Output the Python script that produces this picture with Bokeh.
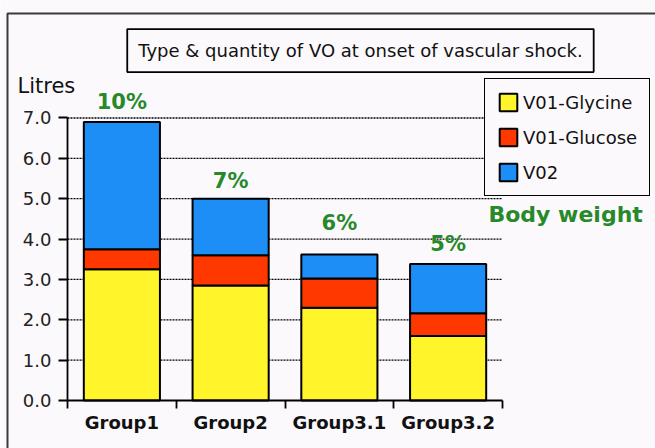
from bokeh.plotting import figure
from bokeh.models import (Range1d, FixedTicker, LinearAxis, Label, Legend, LegendItem,
                          ColumnDataSource, BoxAnnotation, PrintfTickFormatter)
from bokeh.embed import file_html
from bokeh.resources import INLINE
from bokeh.core.properties import value

# ---- data ----
groups = ["Group1", "Group2", "Group3.1", "Group3.2"]
glycine = [3.25, 2.85, 2.30, 1.60]
glucose = [0.50, 0.75, 0.72, 0.56]
vo2 = [3.15, 1.40, 0.60, 1.22]
series_names = ["V01-Glycine", "V01-Glucose", "V02"]
pct_labels = ["10%", "7%", "6%", "5%"]
pct_label_y = [7.40, 5.45, 4.41, 3.87]
y_ticks = [0, 1, 2, 3, 4, 5, 6, 7]
title_text = "Type & quantity of VO at onset of vascular shock."

FONT = "DejaVu Sans"
BG = "#fcf9fc"
GREEN = "#27892a"
colors = ["#fff52a", "#ff3800", "#1c8ef5"]

W, H = 655, 448
X0, Y0 = 67, 400          # canvas position of data origin
UX, UY = 108.75, 40.36    # pixels per data unit

xpos = [i + 0.5 for i in range(len(groups))]
src = ColumnDataSource(dict(x=xpos, glycine=glycine, glucose=glucose, vo2=vo2,
                            pct=pct_labels, py=pct_label_y))
grid_src = ColumnDataSource(dict(y=y_ticks[1:], x0=[0] * (len(y_ticks) - 1),
                                 x1=[len(groups)] * (len(y_ticks) - 1)))

p = figure(width=W, height=H, output_backend="svg", toolbar_location=None,
           x_range=Range1d(-X0 / UX, (W - X0) / UX),
           y_range=Range1d(-(H - Y0) / UY, Y0 / UY),
           x_axis_type=None, y_axis_type=None,
           min_border_left=0, min_border_right=0, min_border_top=0, min_border_bottom=0)
p.background_fill_color = BG
p.border_fill_color = BG
p.outline_line_color = None
p.xgrid.visible = False
p.ygrid.visible = False

# dotted grid lines (between the axis ends only)
p.segment(x0="x0", x1="x1", y0="y", y1="y", source=grid_src, line_color="black",
          line_dash="2 1", line_width=1.3)

# axes
yax = LinearAxis(ticker=FixedTicker(ticks=y_ticks), formatter=PrintfTickFormatter(format="%.1f"),
                 bounds=(0, 7), fixed_location=0)
yax.major_tick_out = 9
yax.major_tick_in = 0
yax.minor_tick_out = 0
yax.minor_tick_in = 0
yax.axis_line_width = 1.8
yax.major_tick_line_width = 1.8
yax.major_label_text_font = FONT
yax.major_label_text_font_size = "18px"
yax.major_label_text_color = "#222222"
yax.major_label_standoff = 7
p.add_layout(yax, "left")

xax = LinearAxis(ticker=FixedTicker(ticks=xpos, minor_ticks=list(range(len(groups) + 1))),
                 bounds=(0, len(groups)), fixed_location=0)
xax.major_label_overrides = {xv: g for xv, g in zip(xpos, groups)}
xax.major_tick_out = 0
xax.major_tick_in = 0
xax.minor_tick_out = 8
xax.minor_tick_in = 0
xax.minor_tick_line_width = 1.8
xax.axis_line_width = 1.8
xax.major_label_text_font = FONT
xax.major_label_text_font_style = "bold"
xax.major_label_text_font_size = "18px"
xax.major_label_text_color = "#111111"
xax.major_label_standoff = 3
p.add_layout(xax, "below")

renderers = p.vbar_stack(["glycine", "glucose", "vo2"], x="x", width=0.7, source=src,
                         fill_color=colors, line_color="black", line_width=2)

p.text(x="x", y="py", text="pct", source=src, text_align="center", text_baseline="middle",
       text_font=value(FONT), text_font_style="bold", text_font_size="21px", text_color=GREEN)

legend = Legend(items=[LegendItem(label=n, renderers=[r]) for n, r in zip(series_names, renderers)],
                location=(484, 252))
legend.glyph_width = 22
legend.glyph_height = 22
legend.label_height = 22
legend.label_standoff = 4
legend.spacing = 13
legend.padding = 12
legend.margin = 0
legend.border_line_color = "black"
legend.border_line_alpha = 1
legend.border_line_width = 1.8
legend.background_fill_color = BG
legend.background_fill_alpha = 1
legend.label_text_font = FONT
legend.label_text_font_size = "18px"
legend.label_text_color = "#111111"
p.add_layout(legend)

p.add_layout(Label(x=2.694, y=8.67, text=title_text, text_align="center", text_baseline="middle",
                   text_font=FONT, text_font_size="18px", text_color="#111111",
                   border_line_color="black", border_line_alpha=1, border_line_width=1.8,
                   background_fill_color=BG, padding=11))
p.add_layout(Label(x=-0.46, y=7.80, text="Litres", text_align="left", text_baseline="middle",
                   text_font=FONT, text_font_size="21px", text_color="#111111"))
p.add_layout(Label(x=3.871, y=4.61, text="Body weight", text_align="left", text_baseline="middle",
                   text_font=FONT, text_font_style="bold", text_font_size="22px", text_color=GREEN))

# outer frame border
p.add_layout(BoxAnnotation(left=7, right=W + 50, top=13, bottom=H + 50,
                           left_units="canvas", right_units="canvas",
                           top_units="canvas", bottom_units="canvas",
                           fill_alpha=0, line_color="#3a3a3a", line_alpha=1, line_width=2))

open("out.html", "w").write(file_html(p, INLINE))
